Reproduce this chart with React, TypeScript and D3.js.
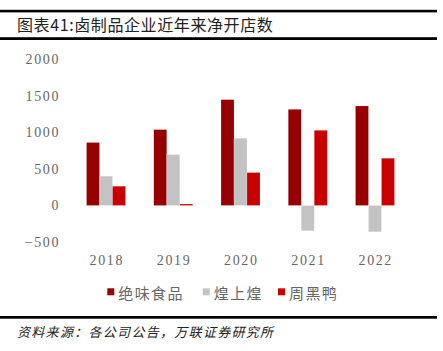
import React from "react";
import * as d3 from "d3";

const years = ["2018", "2019", "2020", "2021", "2022"];
const seriesNames = ["绝味食品", "煌上煌", "周黑鸭"];
const juewei = [860, 1036, 1445, 1313, 1359];
const huangshanghuang = [400, 695, 918, -345, -359];
const zhouheiya = [263, 20, 450, 1027, 645];
const yTicks = [-500, 0, 500, 1000, 1500, 2000];
const colors = ["#960000", "#c3c3c3", "#c80000"];
const title = "图表41:卤制品企业近年来净开店数";
const source = "资料来源：各公司公告，万联证券研究所";

export default function App() {
  const W = 443, H = 351;
  const series = [juewei, huangshanghuang, zhouheiya];
  const x = d3.scaleBand<string>().domain(years).range([72.4, 408.6]).paddingInner(0.42).paddingOuter(0.21);
  const xs = d3.scaleBand<number>().domain([0, 1, 2]).range([0, x.bandwidth()]);
  const y = d3.scaleLinear().domain([-500, 2000]).range([242.1, 59]);
  const serif = "'Liberation Serif', 'DejaVu Serif', serif";
  const cjk = "'Noto Sans CJK SC', sans-serif";
  const legendX = [107.3, 202.7, 278];
  return (
    <svg width={W} height={H} style={{ position: "absolute", left: 0, top: 0, background: "#fff" }}>
      <rect x={0} y={9.8} width={437} height={2.6} fill="#000" />
      <rect x={0} y={37.2} width={437} height={2.8} fill="#000" />
      <text x={17} y={31} fontFamily={cjk} fontSize={16} letterSpacing={0.6} fill="#222">{title}</text>
      {yTicks.map((t) => (
        <text key={t} x={60} y={y(t) + 5} textAnchor="end" fontFamily={serif} fontSize={14} letterSpacing={1.6} fill="#666">
          {t < 0 ? "−" + Math.abs(t) : t}
        </text>
      ))}
      {years.map((yr, i) => (
        <g key={yr} transform={`translate(${x(yr)},0)`}>
          {series.map((s, k) => {
            const v = s[i];
            const y0 = y(Math.max(0, v));
            const h = Math.abs(y(v) - y(0));
            return <rect key={k} x={xs(k)} y={y0} width={xs.bandwidth()} height={h} fill={colors[k]} stroke="#fff" strokeOpacity={0.35} strokeWidth={0.5} />;
          })}
          <text x={x.bandwidth() / 2 + 0.8} y={265} textAnchor="middle" fontFamily={serif} fontSize={14} letterSpacing={1.6} fill="#666">{yr}</text>
        </g>
      ))}
      {seriesNames.map((n, k) => (
        <g key={n}>
          <rect x={legendX[k]} y={288.3} width={7} height={7} fill={colors[k]} />
          <text x={legendX[k] + 11} y={298.5} fontFamily={cjk} fontSize={15} letterSpacing={1.4} fill="#666">{n}</text>
        </g>
      ))}
      <rect x={0} y={316} width={437} height={2.7} fill="#000" />
      <text x={17} y={336.5} fontFamily={cjk} fontSize={13} fontStyle="italic" letterSpacing={1.3} fill="#222">{source}</text>
    </svg>
  );
}
